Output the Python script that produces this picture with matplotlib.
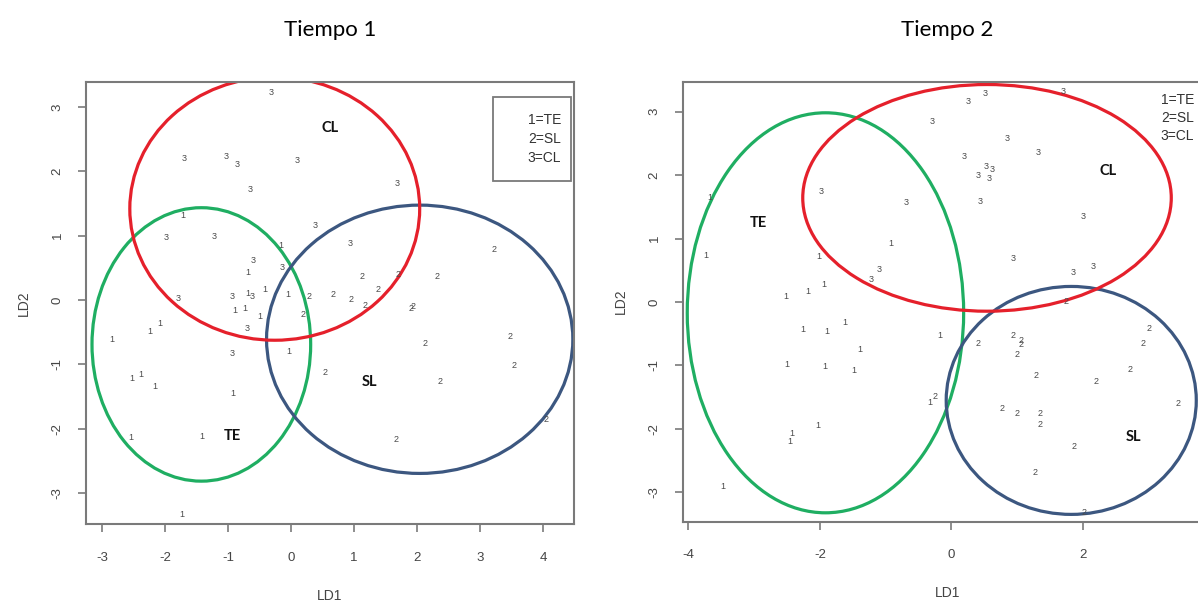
import numpy as np
import matplotlib
matplotlib.use("Agg")
import matplotlib.pyplot as plt
from matplotlib.patches import Ellipse, Rectangle

plt.rcParams["axes.unicode_minus"] = False

# Tiempo 1: discriminant scores (LD1, LD2) per group
t1_te_x = [-1.72, -0.16, -0.68, -0.06, -0.68, -0.41, -0.89, -0.74, -0.49, -2.84,
           -2.25, -2.08, -0.03, -2.53, -2.39, -2.17, -0.93, -2.54, -1.42, -1.73]
t1_te_y = [1.31, 0.85, 0.43, 0.09, 0.10, 0.16, -0.16, -0.13, -0.25, -0.62,
           -0.49, -0.36, -0.80, -1.22, -1.16, -1.35, -1.46, -2.13, -2.12, -3.34]
t1_sl_x = [0.29, 0.19, 0.66, 0.95, 1.12, 1.38, 1.17, 1.69, 2.31, 3.22,
           1.91, 1.94, 0.54, 2.12, 2.36, 3.48, 3.53, 4.05, 1.67]
t1_sl_y = [0.05, -0.23, 0.09, 0.01, 0.36, 0.16, -0.09, 0.39, 0.36, 0.79,
           -0.13, -0.10, -1.13, -0.68, -1.27, -0.57, -1.02, -1.86, -2.17]
t1_cl_x = [-0.32, -1.69, -1.03, -0.86, 0.10, -0.65, 1.68, -1.98, -1.22, 0.38,
           0.93, -0.61, -0.15, -0.94, -0.62, -0.70, -1.80, -0.94]
t1_cl_y = [3.23, 2.20, 2.23, 2.10, 2.17, 1.72, 1.81, 0.97, 0.98, 1.16,
           0.88, 0.61, 0.51, 0.05, 0.06, -0.44, 0.03, -0.83]

# Tiempo 2
t2_te_x = [-3.67, -3.73, -2.51, -2.50, -2.43, -2.45, -3.48, -0.92, -2.01, -2.18,
           -1.94, -1.62, -2.26, -1.90, -1.39, -0.18, -1.92, -1.48, -0.33, -2.03]
t2_te_y = [1.64, 0.73, 0.09, -0.99, -2.07, -2.20, -2.91, 0.92, 0.72, 0.16,
           0.27, -0.33, -0.43, -0.47, -0.75, -0.52, -1.02, -1.08, -1.59, -1.95]
t2_sl_x = [1.74, 2.01, 0.40, 0.93, 1.06, 0.99, 1.29, 2.20, 2.71, 2.91,
           3.00, 3.45, -0.25, 0.77, 0.99, 1.35, 1.35, 1.87, 1.27, 1.05]
t2_sl_y = [0.01, -3.32, -0.65, -0.52, -0.67, -0.83, -1.16, -1.25, -1.07, -0.66,
           -0.41, -1.60, -1.49, -1.67, -1.75, -1.75, -1.93, -2.28, -2.69, -0.61]
t2_cl_x = [0.26, 0.51, 1.70, -0.30, 0.84, 1.31, 0.20, 0.41, 0.53, 0.62,
           0.58, -1.98, -0.69, 0.43, 2.00, -1.10, -1.22, 0.94, 1.85, 2.15]
t2_cl_y = [3.16, 3.29, 3.32, 2.84, 2.58, 2.35, 2.29, 1.99, 2.14, 2.08,
           1.95, 1.74, 1.56, 1.58, 1.35, 0.51, 0.35, 0.69, 0.46, 0.56]

group_codes = ["1", "2", "3"]
group_names = ["TE", "SL", "CL"]
group_colors = ["#1fae62", "#3c5780", "#e5202b"]

# ellipse centre (x, y) and full width/height for each group
t1_ellipses = [(-1.425, -0.69, 3.47, 4.25), (2.04, -0.61, 4.86, 4.17), (-0.26, 1.42, 4.60, 4.09)]
t2_ellipses = [(-1.915, -0.17, 4.20, 6.30), (1.82, -1.55, 3.80, 3.59), (0.54, 1.64, 5.60, 3.57)]

# group name positions
t1_name_pos = [(-0.94, -2.12), (1.25, -1.27), (0.62, 2.67)]
t2_name_pos = [(-2.94, 1.24), (2.76, -2.12), (2.38, 2.06)]

legend_text = "1=TE\n2=SL\n3=CL"

fig = plt.figure(figsize=(11.98, 6.05), dpi=100)
ax1 = fig.add_axes([0.0718, 0.134, 0.4074, 0.7306])
ax2 = fig.add_axes([0.5701, 0.1377, 0.4411, 0.7273])


def style_axes(ax, xticks):
    for s in ax.spines.values():
        s.set_color("#7a7a7a")
        s.set_linewidth(1.5)
    ax.set_xticks(xticks)
    ax.set_yticks([-3, -2, -1, 0, 1, 2, 3])
    ax.tick_params(direction="out", length=6, width=1.2, color="#7a7a7a",
                   labelcolor="#444444", labelsize=9.5, pad=14)
    ax.tick_params(axis="y", pad=10)
    for lab in ax.get_xticklabels() + ax.get_yticklabels():
        lab.set_family("Liberation Sans")
    for lab in ax.get_yticklabels():
        lab.set_rotation(90)
        lab.set_va("center")
    ax.set_xlabel("LD1", fontsize=10, color="#444444", family="Liberation Sans", labelpad=18)
    ax.set_ylabel("LD2", fontsize=10, color="#444444", family="Liberation Sans", labelpad=15)


def draw_panel(ax, points, ellipses, names, title):
    for (xs, ys), code in zip(points, group_codes):
        for x, y in zip(xs, ys):
            ax.text(x, y, code, ha="center", va="center", fontsize=6.5,
                    color="#4a4a4a", family="Liberation Sans")
    for (cx, cy, w, h), col in zip(ellipses, group_colors):
        ax.add_patch(Ellipse((cx, cy), w, h, fill=False, edgecolor=col, linewidth=2.3))
    for (nx, ny), name in zip(names, group_names):
        ax.text(nx, ny, name, ha="center", va="center", fontsize=10.5,
                fontweight="bold", color="#111111", family="Lato")
    ax.set_title(title, fontsize=16, family="Lato", pad=33)


draw_panel(ax1, [(t1_te_x, t1_te_y), (t1_sl_x, t1_sl_y), (t1_cl_x, t1_cl_y)],
           t1_ellipses, t1_name_pos, "Tiempo 1")
draw_panel(ax2, [(t2_te_x, t2_te_y), (t2_sl_x, t2_sl_y), (t2_cl_x, t2_cl_y)],
           t2_ellipses, t2_name_pos, "Tiempo 2")

ax1.set_xlim(-3.255, 4.49)
ax1.set_ylim(-3.48, 3.39)
ax2.set_xlim(-4.08, 3.95)
ax2.set_ylim(-3.46, 3.47)
style_axes(ax1, [-3, -2, -1, 0, 1, 2, 3, 4])
style_axes(ax2, [-4, -2, 0, 2])

# legends: boxed on the left panel, plain white patch on the right one
ax1.add_patch(Rectangle((0.834, 0.776), 0.16, 0.19, transform=ax1.transAxes,
                        facecolor="white", edgecolor="#7a7a7a", linewidth=1.3, zorder=3))
ax1.text(0.973, 0.871, legend_text, transform=ax1.transAxes, ha="right", va="center",
         fontsize=10, color="#333333", family="Liberation Sans", linespacing=1.45, zorder=4)
ax2.text(1194 / 1198, 1 - 118 / 605, legend_text, transform=fig.transFigure, ha="right",
         va="center", fontsize=10, color="#333333", family="Liberation Sans", linespacing=1.4,
         bbox=dict(boxstyle="square,pad=0.1", facecolor="white", edgecolor="none"))

fig.savefig("out.png", dpi=100)
